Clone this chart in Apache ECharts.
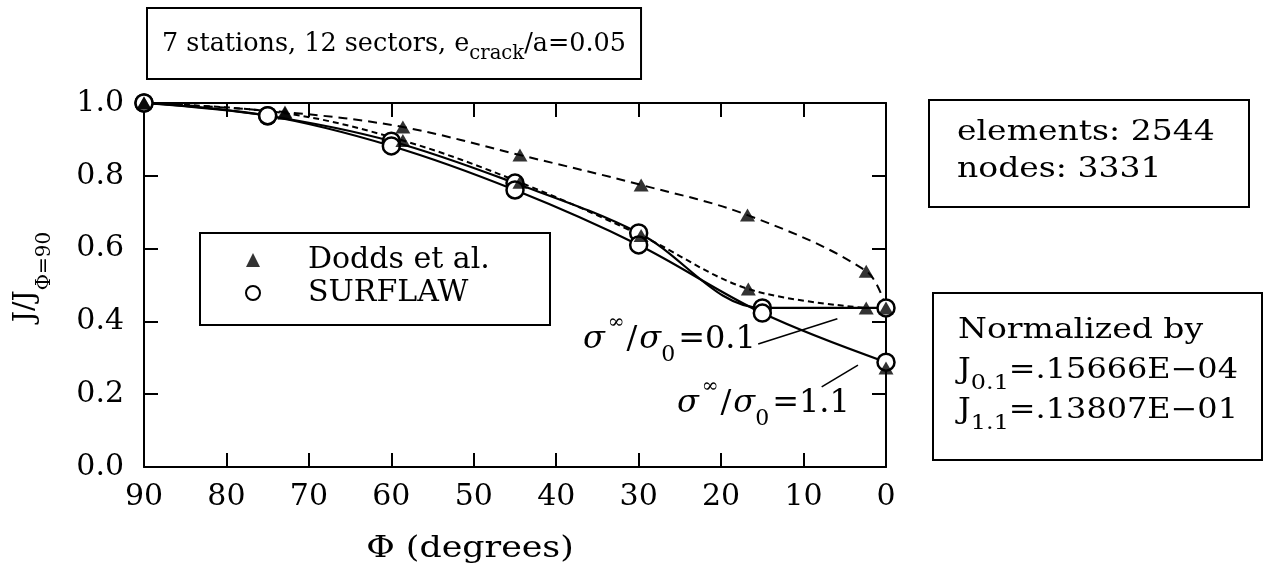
<!DOCTYPE html>
<html>
<head>
<meta charset="utf-8">
<script src="https://cdn.jsdelivr.net/npm/echarts@6/dist/echarts.min.js"></script>
<style>
  html, body { margin: 0; padding: 0; background: #fff; }
  #chart { width: 1270px; height: 569px; }
</style>
</head>
<body>
<div id="chart"></div>
<script>
// ---- data -------------------------------------------------------------
const xTickLabels = ['0', '10', '20', '30', '40', '50', '60', '70', '80', '90'];
const yTickLabels = ['0.0', '0.2', '0.4', '0.6', '0.8', '1.0'];

// SURFLAW results (open circles), angle in degrees
const surflawPhi  = [90, 75, 60, 45, 30, 15, 0];
const surflawLow  = [1.000, 0.965, 0.895, 0.780, 0.643, 0.437, 0.437]; // sigma/sigma0 = 0.1
const surflawHigh = [1.000, 0.965, 0.882, 0.761, 0.610, 0.423, 0.288]; // sigma/sigma0 = 1.1

// Dodds et al. results (filled triangles)
const doddsUpperPhi = [90, 72.9, 58.6, 44.4, 29.7, 16.8, 2.4, 0];
const doddsUpper    = [1.000, 0.975, 0.934, 0.857, 0.775, 0.692, 0.538, 0.437];
const doddsLowerPhi = [90, 72.9, 58.6, 44.4, 29.7, 16.7, 2.4];
const doddsLower    = [1.000, 0.972, 0.897, 0.782, 0.636, 0.489, 0.437];
const doddsEndPhi   = [0];
const doddsEnd      = [0.272];

// ---- helpers ----------------------------------------------------------
const FONT = '"DejaVu Serif", serif';
const pairs = (xs, ys) => xs.map((x, i) => [x, ys[i]]);

const measureCtx = document.createElement('canvas').getContext('2d');
function fontOf(p) { return (p.italic ? 'italic ' : '') + p.size + 'px ' + FONT; }
// A row of text pieces (for sub/superscripts), left edge at x, centred on y,
// optionally stretched horizontally by sx.
function textRow(x, y, parts, opts) {
  opts = opts || {};
  const children = [];
  let cx = 0;
  parts.forEach(p => {
    const font = fontOf(p);
    measureCtx.font = font;
    const w = measureCtx.measureText(p.t).width;
    cx += (p.gap || 0);
    children.push({
      type: 'text', x: cx, y: (p.dy || 0), silent: true, z: opts.z || 20,
      style: { text: p.t, font: font, fill: '#000', textAlign: 'left',
               textVerticalAlign: 'middle', verticalAlign: 'middle' }
    });
    cx += w;
  });
  const sx = opts.sx || 1;
  return { type: 'group', x: x, y: y, scaleX: sx, children: children, width: cx * sx };
}
function box(x, y, w, h, z) {
  return { type: 'rect', silent: true, z: z || 15,
           shape: { x, y, width: w, height: h },
           style: { fill: '#fff', stroke: '#000', lineWidth: 2 } };
}

// ---- chart ------------------------------------------------------------
const chart = echarts.init(document.getElementById('chart'), null, { renderer: 'canvas' });

const axisLine = { show: true, onZero: false, lineStyle: { color: '#000', width: 2 } };
const axisTick = { show: true, inside: true, length: 14, lineStyle: { color: '#000', width: 2 } };
const labelFont = { color: '#000', fontFamily: FONT, fontSize: 30 };

const LEGEND_FS = 30;
measureCtx.font = LEGEND_FS + 'px ' + FONT;
const legendTextW = measureCtx.measureText('Dodds et al.').width;
const legendPadR = Math.max(10, 549 - (200 + 45 + 14 + 5 + 43 + legendTextW));

const option = {
  animation: false,
  backgroundColor: '#fff',
  grid: { left: 144, right: 384, top: 103, bottom: 102, containLabel: false },
  xAxis: [
    { type: 'value', min: 0, max: 90, interval: 10, inverse: true, position: 'bottom',
      axisLine, axisTick, splitLine: { show: false },
      axisLabel: Object.assign({ margin: 15,
        formatter: v => xTickLabels[Math.round(v / 10)] }, labelFont) },
    { type: 'value', min: 0, max: 90, interval: 10, inverse: true, position: 'top',
      axisLine, axisTick, splitLine: { show: false }, axisLabel: { show: false } }
  ],
  yAxis: [
    { type: 'value', min: 0, max: 1, interval: 0.2, position: 'left',
      axisLine, axisTick, splitLine: { show: false },
      axisLabel: Object.assign({ margin: 20,
        formatter: v => yTickLabels[Math.round(v / 0.2)] }, labelFont) },
    { type: 'value', min: 0, max: 1, interval: 0.2, position: 'right',
      axisLine, axisTick, splitLine: { show: false }, axisLabel: { show: false } }
  ],
  legend: {
    left: 200, top: 233, orient: 'vertical', selectedMode: false,
    padding: [12, legendPadR, 17, 45], itemGap: 3, itemWidth: 14, itemHeight: 14,
    backgroundColor: '#fff', borderColor: '#000', borderWidth: 2, z: 10,
    textStyle: { color: '#000', fontFamily: FONT, fontSize: LEGEND_FS, lineHeight: 30,
                 padding: [0, 0, 0, 43] },
    data: [
      { name: 'Dodds et al.', icon: 'triangle',
        itemStyle: { color: '#000', borderWidth: 0 } },
      { name: 'SURFLAW', icon: 'circle',
        itemStyle: { color: '#fff', borderColor: '#000', borderWidth: 2 } }
    ]
  },
  series: [
    // Dodds et al. curves (dashed, drawn beneath the circles)
    { name: 'Dodds upper', type: 'line', smooth: 0.35, showSymbol: false, z: 2,
      data: pairs(doddsUpperPhi, doddsUpper),
      lineStyle: { color: '#000', width: 2, type: [9, 6] } },
    { name: 'Dodds lower', type: 'line', smooth: 0.35, showSymbol: false, z: 2,
      data: pairs(doddsLowerPhi, doddsLower),
      lineStyle: { color: '#000', width: 2, type: [6, 4] } },
    // SURFLAW curves (solid, open circles)
    { name: 'SURFLAW', type: 'line', smooth: 0.35, z: 3,
      data: pairs(surflawPhi, surflawLow),
      symbol: 'circle', symbolSize: 17,
      itemStyle: { color: '#fff', borderColor: '#000', borderWidth: 2.5 },
      lineStyle: { color: '#000', width: 2.2 } },
    { name: 'SURFLAW', type: 'line', smooth: 0.35, z: 3,
      data: pairs(surflawPhi, surflawHigh),
      symbol: 'circle', symbolSize: 17,
      itemStyle: { color: '#fff', borderColor: '#000', borderWidth: 2.5 },
      lineStyle: { color: '#000', width: 2.2 } },
    // Dodds et al. points (filled triangles, on top)
    { name: 'Dodds et al.', type: 'scatter', z: 4,
      data: pairs(doddsUpperPhi, doddsUpper)
              .concat(pairs(doddsLowerPhi, doddsLower))
              .concat(pairs(doddsEndPhi, doddsEnd)),
      symbol: 'triangle', symbolSize: [15, 13],
      itemStyle: { color: '#000' } }
  ]
};
chart.setOption(option);

// ---- annotations, boxes and axis titles ------------------------------
const px = (x, y) => chart.convertToPixel({ xAxisIndex: 0, yAxisIndex: 0 }, [x, y]);
const graphic = [];

// title box
const titleRow = textRow(162, 44, [
  { t: '7 stations, 12 sectors, e', size: 26 },
  { t: 'crack', size: 20, dy: 10 },
  { t: '/a=0.05', size: 26 }
], { sx: 0.98 });
graphic.push(box(147, 8, titleRow.width + 30, 71), titleRow);

// mesh size box
graphic.push(box(929, 100, 320, 107));
graphic.push(textRow(957, 133, [{ t: 'elements: 2544', size: 28 }], { sx: 1.18 }));
graphic.push(textRow(957, 170, [{ t: 'nodes: 3331', size: 28 }], { sx: 1.18 }));

// normalisation box
graphic.push(box(933, 293, 329, 167));
graphic.push(textRow(958, 331, [{ t: 'Normalized by', size: 28 }], { sx: 1.18 }));
graphic.push(textRow(958, 371, [
  { t: 'J', size: 28 }, { t: '0.1', size: 21, dy: 13 }, { t: '=.15666E\u221204', size: 28 }
], { sx: 1.14 }));
graphic.push(textRow(958, 411, [
  { t: 'J', size: 28 }, { t: '1.1', size: 21, dy: 13 }, { t: '=.13807E\u221201', size: 28 }
], { sx: 1.14 }));

// load-level labels with leader lines
function sigmaLabel(x, y, value) {
  return textRow(x, y, [
    { t: '\u03c3', size: 32, italic: true },
    { t: '\u221e', size: 20, dy: -17, gap: 3 },
    { t: '/', size: 32, gap: 2 },
    { t: '\u03c3', size: 32, italic: true, gap: 2 },
    { t: '0', size: 22, dy: 15 },
    { t: '=' + value, size: 32, gap: 3 }
  ], { z: 6 });
}
const lab1 = px(36.75, 0.349);
const lab2 = px(25.35, 0.173);
graphic.push(sigmaLabel(lab1[0], lab1[1], '0.1'));
graphic.push(sigmaLabel(lab2[0], lab2[1], '1.1'));
[[15.5, 0.338, 5.9, 0.407], [7.8, 0.220, 3.4, 0.280]].forEach(l => {
  const a = px(l[0], l[1]), b = px(l[2], l[3]);
  graphic.push({ type: 'line', silent: true, z: 6,
    shape: { x1: a[0], y1: a[1], x2: b[0], y2: b[1] },
    style: { stroke: '#000', lineWidth: 1.6 } });
});

// x-axis title
const xName = textRow(0, 549, [{ t: '\u03a6 (degrees)', size: 29 }], { sx: 1.2 });
xName.x = 470 - xName.width / 2;
graphic.push(xName);

// y-axis title, rotated
const yName = textRow(0, 0, [
  { t: 'J/J', size: 28 },
  { t: '\u03a6=90', size: 20, dy: 19 }
]);
graphic.push({ type: 'group', x: 26, y: 277 + yName.width / 2, rotation: Math.PI / 2,
               children: yName.children });

graphic.forEach(g => { delete g.width; });
chart.setOption({ graphic });
</script>
</body>
</html>
